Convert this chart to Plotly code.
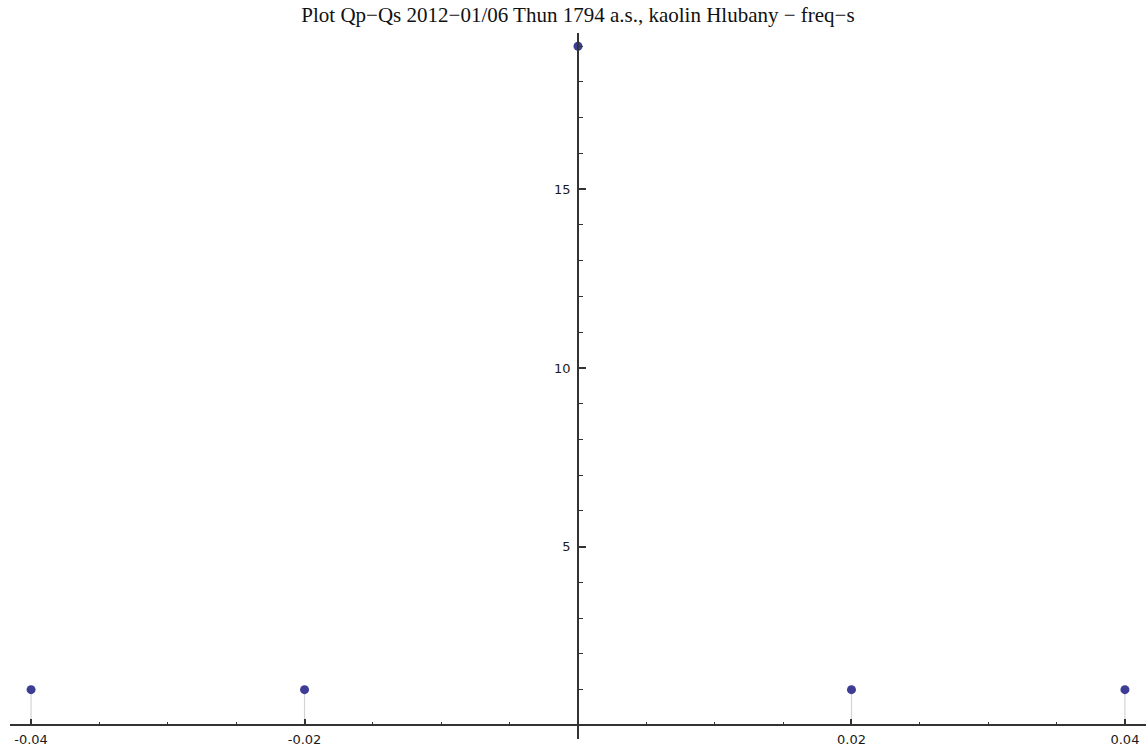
import plotly.graph_objects as go

# Frequency bins and counts
freq = [-0.04, -0.02, 0.0, 0.02, 0.04]
counts = [1, 1, 19, 1, 1]

x_tick_vals = [-0.04, -0.02, 0.02, 0.04]
x_tick_text = ["-0.04", "-0.02", "0.02", "0.04"]
y_tick_vals = [5, 10, 15]
y_tick_text = ["5", "10", "15"]

title_text = "Plot Qp\u2212Qs 2012\u221201/06 Thun 1794 a.s., kaolin Hlubany \u2212 freq\u2212s"

point_color = "#3d3d96"
axis_color = "#333333"

# Vertical stems from the axis up to each point
stem_x, stem_y = [], []
for f, c in zip(freq, counts):
    stem_x += [f, f, None]
    stem_y += [0, c, None]

fig = go.Figure()
fig.add_trace(go.Scatter(
    x=stem_x, y=stem_y, mode="lines",
    line=dict(color="#d4d4d4", width=1.2),
    hoverinfo="skip", showlegend=False,
))
fig.add_trace(go.Scatter(
    x=freq, y=counts, mode="markers",
    marker=dict(color=point_color, size=9, line=dict(width=0)),
    showlegend=False,
))

y_lo, y_hi = -0.38, 19.37
x_lo, x_hi = -0.04154, 0.04154

fig.update_layout(
    width=1146, height=755,
    margin=dict(l=10, r=0, t=33, b=16),
    paper_bgcolor="white", plot_bgcolor="white",
    title=dict(
        text=title_text, x=0.5, xref="paper", xanchor="center",
        y=1 - 15 / 755, yref="container", yanchor="middle",
        font=dict(family="Liberation Serif", size=21, color="#111111"),
    ),
    xaxis=dict(
        range=[x_lo, x_hi], anchor="free", position=(0 - y_lo) / (y_hi - y_lo),
        showgrid=False, zeroline=False,
        showline=True, linecolor=axis_color, linewidth=1.5,
        tickvals=x_tick_vals, ticktext=x_tick_text,
        ticks="inside", ticklen=6, tickwidth=1.5, tickcolor=axis_color,
        minor=dict(dtick=0.005, tick0=0, ticks="inside", ticklen=3,
                   tickwidth=1.2, tickcolor=axis_color, showgrid=False),
        tickfont=dict(family="DejaVu Sans", size=13, color="#1a1a1a"),
        ticklabelstandoff=2,
    ),
    yaxis=dict(
        range=[y_lo, y_hi], anchor="free", position=(0 - x_lo) / (x_hi - x_lo),
        side="left",
        showgrid=False, zeroline=False,
        showline=True, linecolor=axis_color, linewidth=1.5,
        tickvals=y_tick_vals, ticktext=y_tick_text,
        ticks="inside", ticklen=7, tickwidth=1.5, tickcolor=axis_color,
        minor=dict(dtick=1, tick0=0, ticks="inside", ticklen=4,
                   tickwidth=1.2, tickcolor=axis_color, showgrid=False),
        tickfont=dict(family="DejaVu Sans", size=13, color="#1a1a1a"),
        ticklabelstandoff=4,
    ),
)

fig.write_html("out.html")
